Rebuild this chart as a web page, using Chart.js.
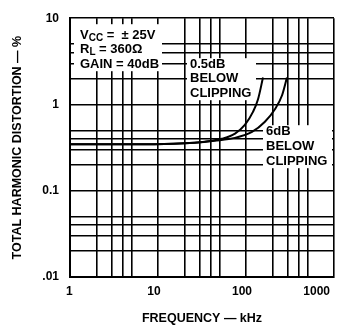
<!DOCTYPE html>
<html><head><meta charset="utf-8">
<script src="https://cdn.jsdelivr.net/npm/chart.js@4"></script>
<style>html,body{margin:0;padding:0;background:#fff}#wrap{width:351px;height:326px;position:relative}</style>
</head><body><div id="wrap"><canvas id="c"></canvas></div>
<script>
// grid / ticks
const xGridValues = [1,2,3,4,5,10,20,30,40,50,100,200,300,400,500,1000];
const yGridValues = [0.01,0.02,0.03,0.04,0.05,0.1,0.2,0.3,0.4,0.5,1,2,3,4,5,10];
const xTickValues = [1,10,100,1000];
const xTickLabels = ['1','10','100','1000'];
const yTickValues = [0.01,0.1,1,10];
const yTickLabels = ['.01','0.1','1','10'];
// series (frequency kHz, THD %)
const freq05 = [1, 5, 15, 26, 34, 53, 75, 97, 120, 137, 156];
const thd05  = [0.345, 0.345, 0.35, 0.36, 0.37, 0.40, 0.46, 0.58, 0.82, 1.15, 2.05];
const freq6  = [1, 5, 15, 26, 44, 75, 117, 164, 214, 257, 292];
const thd6   = [0.345, 0.345, 0.35, 0.36, 0.38, 0.41, 0.48, 0.63, 0.885, 1.28, 2.05];
const seriesNames = ['0.5dB BELOW CLIPPING', '6dB BELOW CLIPPING'];
const xTitle = 'FREQUENCY — kHz';
const yTitle = 'TOTAL HARMONIC DISTORTION — %';
const condLines = [
  [{t:'V'},{t:'CC',sub:true},{t:' =  ± 25V'}],
  [{t:'R'},{t:'L',sub:true},{t:' = 360Ω'}],
  [{t:'GAIN = 40dB'}]
];
const label05 = ['0.5dB','BELOW','CLIPPING'];
const label6 = ['6dB','BELOW','CLIPPING'];

const FF = '"Liberation Sans", Arial, Helvetica, sans-serif';

function drawParts(ctx, x, y, parts){
  let cx = x;
  for (const p of parts){
    if (p.sub){
      ctx.font = 'bold 10px ' + FF;
      ctx.fillText(p.t, cx, y + 3);
    } else {
      ctx.font = 'bold 13px ' + FF;
      ctx.fillText(p.t, cx, y);
    }
    cx += ctx.measureText(p.t).width;
  }
}

const annot = {
  id: 'annot',
  beforeDatasetsDraw(chart){
    const ctx = chart.ctx, a = chart.chartArea;
    ctx.save();
    ctx.fillStyle = '#fff';
    // white label backgrounds (relative to chart area)
    ctx.fillRect(a.left + 4, a.top + 6, 88, 47);
    ctx.fillRect(a.left + 117, a.top + 40, 69, 42);
    ctx.fillRect(a.left + 193, a.top + 107, a.right - a.left - 195, 43);
    ctx.fillStyle = '#000';
    ctx.textBaseline = 'middle';
    ctx.textAlign = 'left';
    condLines.forEach((ln, i) => drawParts(ctx, a.left + 10, a.top + 17 + i * 14.5, ln));
    ctx.font = 'bold 13px ' + FF;
    label05.forEach((t, i) => ctx.fillText(t, a.left + 120, a.top + 46 + i * 14.5));
    label6.forEach((t, i) => ctx.fillText(t, a.left + 196, a.top + 113.5 + i * 15));
    ctx.restore();
  }
};

const mk = (fs, vs) => fs.map((f, i) => ({x: f, y: vs[i]}));

new Chart(document.getElementById('c'), {
  type: 'line',
  data: {
    datasets: [
      {label: seriesNames[0], data: mk(freq05, thd05), borderColor: '#000', borderWidth: 2, pointRadius: 0, cubicInterpolationMode: 'monotone', fill: false},
      {label: seriesNames[1], data: mk(freq6, thd6), borderColor: '#000', borderWidth: 2, pointRadius: 0, cubicInterpolationMode: 'monotone', fill: false}
    ]
  },
  options: {
    responsive: true,
    maintainAspectRatio: false,
    animation: false,
    devicePixelRatio: 1,
    layout: {padding: {left: 0, top: 15, right: 17, bottom: 0}},
    plugins: {legend: {display: false}, tooltip: {enabled: false}},
    scales: {
      x: {
        type: 'logarithmic', min: 1, max: 1000,
        afterBuildTicks: s => { s.ticks = xGridValues.map(v => ({value: v})); },
        afterFit: s => { s.height = 49; },
        grid: {color: '#000', lineWidth: 1.6, drawTicks: false},
        border: {color: '#000', width: 2},
        ticks: {
          autoSkip: false, maxRotation: 0, align: 'inner', padding: 7, labelOffset: -4,
          color: '#000', font: {family: FF, size: 12, weight: 'bold'},
          callback: v => { const i = xTickValues.indexOf(v); return i >= 0 ? xTickLabels[i] : ''; }
        },
        title: {display: true, text: xTitle, color: '#000', font: {family: FF, size: 12.5, weight: 'bold'}, padding: {top: 0, bottom: 0}}
      },
      y: {
        type: 'logarithmic', min: 0.01, max: 10,
        afterBuildTicks: s => { s.ticks = yGridValues.map(v => ({value: v})); },
        afterFit: s => { s.width = 70; },
        grid: {color: '#000', lineWidth: 1.6, drawTicks: false},
        border: {color: '#000', width: 2},
        ticks: {
          autoSkip: false, padding: 11,
          color: '#000', font: {family: FF, size: 12, weight: 'bold'},
          callback: v => { const i = yTickValues.findIndex(t => Math.abs(t - v) < 1e-9); return i >= 0 ? yTickLabels[i] : ''; }
        },
        title: {display: true, text: yTitle, color: '#000', font: {family: FF, size: 12.5, weight: 'bold'}, padding: {top: 10, bottom: 0}}
      }
    }
  },
  plugins: [annot]
});
</script>
</body></html>
